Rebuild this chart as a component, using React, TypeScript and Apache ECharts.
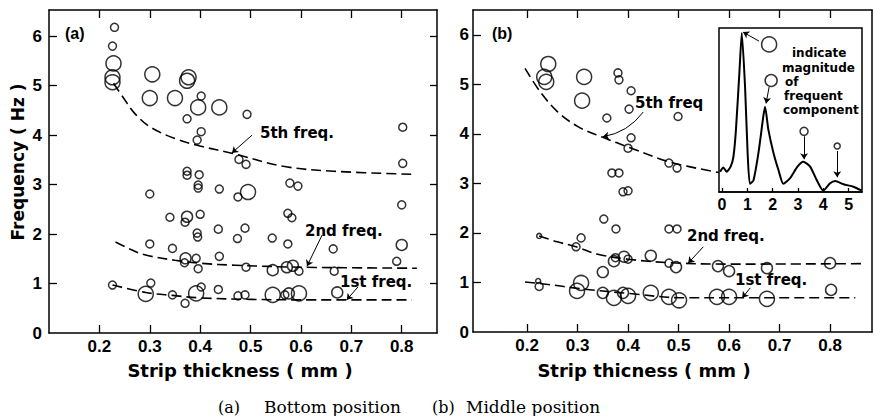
import { useEffect, useRef } from 'react';
import * as echarts from 'echarts';

// ---------- axis ticks ----------
const THICK_TICKS = [0.2, 0.3, 0.4, 0.5, 0.6, 0.7, 0.8];
const FREQ_LABELS = [0, 1, 2, 3, 4, 5, 6];
const FREQ_TICKS = [1, 2, 3, 4, 5, 6];
const INSET_TICKS = [0, 1, 2, 3, 4, 5];

// ---------- (a) Bottom position: [thickness mm, frequency Hz, magnitude class 0..3] ----------
const bottomPoints = [
  [0.23, 6.18, 1], [0.226, 5.8, 1], [0.228, 5.45, 3], [0.226, 5.17, 3], [0.226, 5.07, 3],
  [0.305, 5.23, 3], [0.3, 4.75, 3], [0.35, 4.75, 3], [0.374, 5.1, 3], [0.377, 5.17, 3],
  [0.402, 4.79, 1], [0.396, 4.56, 3], [0.374, 4.33, 1], [0.438, 4.56, 3], [0.493, 4.42, 1],
  [0.402, 4.07, 1], [0.394, 3.9, 1], [0.802, 4.16, 1], [0.477, 3.51, 1], [0.491, 3.41, 1],
  [0.802, 3.43, 1], [0.374, 3.27, 1], [0.374, 3.19, 1], [0.398, 3.2, 1], [0.396, 2.99, 1],
  [0.396, 2.93, 1], [0.438, 2.91, 1], [0.578, 3.03, 1], [0.594, 2.97, 1], [0.495, 2.85, 3],
  [0.475, 2.75, 1], [0.3, 2.81, 1], [0.8, 2.59, 1], [0.34, 2.34, 1], [0.374, 2.35, 2],
  [0.37, 2.24, 1], [0.4, 2.4, 1], [0.436, 2.1, 1], [0.489, 2.12, 1], [0.394, 2.02, 1],
  [0.395, 1.94, 1], [0.474, 1.91, 1], [0.543, 1.92, 1], [0.574, 2.42, 1], [0.582, 2.33, 1],
  [0.3, 1.8, 1], [0.345, 1.71, 1], [0.574, 1.8, 1], [0.664, 1.7, 1], [0.8, 1.78, 2],
  [0.79, 1.45, 1], [0.371, 1.51, 2], [0.369, 1.42, 1], [0.392, 1.51, 1], [0.396, 1.3, 1],
  [0.438, 1.55, 1], [0.491, 1.33, 1], [0.544, 1.27, 2], [0.572, 1.33, 2], [0.584, 1.36, 2],
  [0.596, 1.25, 1], [0.666, 1.25, 1],
  [0.226, 0.97, 1], [0.302, 1.01, 1], [0.292, 0.79, 3], [0.345, 0.77, 1], [0.37, 0.6, 1],
  [0.392, 0.8, 3], [0.402, 0.93, 1], [0.436, 0.88, 1], [0.475, 0.75, 1], [0.489, 0.77, 1],
  [0.544, 0.77, 3], [0.568, 0.77, 1], [0.576, 0.8, 2], [0.596, 0.8, 3], [0.672, 0.82, 2],
];
const bottomFifth = [[0.228, 5.05], [0.25, 4.72], [0.27, 4.44], [0.3, 4.17], [0.35, 3.93], [0.4, 3.78], [0.465, 3.63], [0.565, 3.37], [0.665, 3.27], [0.82, 3.21]];
const bottomSecond = [[0.232, 1.84], [0.26, 1.7], [0.29, 1.58], [0.35, 1.47], [0.4, 1.41], [0.47, 1.37], [0.6, 1.33], [0.83, 1.31]];
const bottomFirst = [[0.226, 0.97], [0.292, 0.82], [0.345, 0.76], [0.4, 0.71], [0.5, 0.68], [0.6, 0.67], [0.82, 0.67]];
const bottomArrows = [
  [[0.503, 4.0], [0.463, 3.64]],
  [[0.642, 1.98], [0.612, 1.35]],
  [[0.713, 0.93], [0.691, 0.67]],
];

// ---------- (b) Middle position ----------
const middlePoints = [
  [0.242, 5.41, 3], [0.234, 5.15, 3], [0.238, 5.05, 3], [0.313, 5.15, 3], [0.309, 4.67, 3],
  [0.38, 5.23, 1], [0.382, 5.09, 1], [0.406, 4.87, 1], [0.402, 4.5, 1], [0.358, 4.32, 1],
  [0.499, 4.35, 1], [0.406, 3.92, 1], [0.4, 3.71, 1], [0.481, 3.41, 1], [0.497, 3.31, 1],
  [0.368, 3.21, 1], [0.382, 3.21, 1], [0.39, 2.83, 1], [0.4, 2.85, 1],
  [0.352, 2.28, 1], [0.376, 2.08, 1], [0.481, 2.08, 1], [0.497, 2.08, 1], [0.224, 1.94, 0],
  [0.307, 1.9, 1], [0.297, 1.72, 1],
  [0.35, 1.21, 2], [0.372, 1.43, 2], [0.375, 1.5, 1], [0.392, 1.52, 2], [0.4, 1.47, 1],
  [0.445, 1.54, 2], [0.481, 1.39, 1], [0.495, 1.31, 2], [0.578, 1.33, 2], [0.6, 1.23, 2],
  [0.675, 1.29, 2], [0.8, 1.39, 2],
  [0.222, 1.03, 0], [0.224, 0.92, 1], [0.307, 0.99, 3], [0.299, 0.83, 3], [0.35, 0.79, 2],
  [0.372, 0.69, 3], [0.39, 0.79, 2], [0.4, 0.73, 3], [0.445, 0.79, 3], [0.481, 0.71, 3],
  [0.501, 0.64, 3], [0.576, 0.71, 3], [0.6, 0.71, 3], [0.675, 0.67, 3], [0.802, 0.85, 2],
];
const middleFifth = [[0.196, 5.32], [0.226, 4.85], [0.26, 4.45], [0.3, 4.15], [0.35, 3.93], [0.404, 3.72], [0.483, 3.43], [0.58, 3.22]];
const middleSecond = [[0.224, 1.94], [0.26, 1.82], [0.297, 1.72], [0.34, 1.57], [0.4, 1.47], [0.48, 1.4], [0.6, 1.37], [0.865, 1.38]];
const middleFirst = [[0.196, 1.01], [0.25, 0.95], [0.3, 0.88], [0.4, 0.78], [0.51, 0.69], [0.6, 0.69], [0.85, 0.69]];
const middleArrows = [
  [[0.43, 4.44], [0.35, 3.94]],
  [[0.549, 1.72], [0.519, 1.39]],
  [[0.642, 0.89], [0.626, 0.69]],
];

// ---------- inset spectrum: [frequency Hz, relative amplitude] ----------
const spectrum = [
  [-0.08, 0.124], [0.05, 0.15], [0.18, 0.124], [0.34, 0.155], [0.45, 0.215], [0.55, 0.38],
  [0.69, 0.74], [0.78, 0.97], [0.91, 0.64], [1.01, 0.24], [1.1, 0.05], [1.24, 0.07],
  [1.44, 0.24], [1.63, 0.46], [1.7, 0.52], [1.83, 0.38], [2.03, 0.24], [2.23, 0.134],
  [2.42, 0.05], [2.69, 0.085], [2.98, 0.155], [3.21, 0.185], [3.48, 0.155], [3.74, 0.073],
  [4.0, 0.008], [4.27, 0.053], [4.47, 0.067], [4.8, 0.047], [5.19, 0.032], [5.52, 0.008],
];
const insetMarkers = [[1.86, 0.9, 4], [1.94, 0.68, 3], [3.24, 0.37, 1], [4.55, 0.28, 0]];
const insetArrows = [
  [[1.46, 0.92], [0.83, 0.975]],
  [[1.86, 0.64], [1.74, 0.54]],
  [[3.24, 0.34], [3.24, 0.2]],
  [[4.55, 0.25], [4.55, 0.09]],
];

const MAG_SIZE = [5, 8, 11, 15, 16];
const INSET_SIZE = [6, 8, 10, 12, 15];

const BLACK = '#000';
const axisLine = { show: true, onZero: false, lineStyle: { color: BLACK, width: 1.5 } };
const tickLine = { color: BLACK, width: 1.3 };
const tickFont = { fontFamily: '"Liberation Sans", Arial, sans-serif', fontWeight: 'bold' as const, fontSize: 17, color: BLACK };

function xAxes(gridIndex: number, min: number, max: number) {
  return [
    {
      gridIndex, type: 'value', min, max, position: 'bottom',
      axisLine, splitLine: { show: false },
      axisTick: { show: true, inside: true, length: 8, customValues: THICK_TICKS, lineStyle: tickLine },
      axisLabel: { ...tickFont, margin: 5, customValues: THICK_TICKS, formatter: (v: number) => v.toFixed(1) },
    },
    {
      gridIndex, type: 'value', min, max, position: 'top',
      axisLine, splitLine: { show: false },
      axisTick: { show: true, inside: true, length: 8, customValues: THICK_TICKS, lineStyle: tickLine },
      axisLabel: { show: false },
    },
  ];
}

function yAxes(gridIndex: number, max: number, labelMargin: number, rightTicks: boolean) {
  return [
    {
      gridIndex, type: 'value', min: 0, max, position: 'left',
      axisLine, splitLine: { show: false },
      axisTick: { show: true, inside: true, length: 8, customValues: FREQ_TICKS, lineStyle: tickLine },
      axisLabel: { ...tickFont, margin: labelMargin, customValues: FREQ_LABELS, formatter: (v: number) => String(Math.round(v)) },
    },
    {
      gridIndex, type: 'value', min: 0, max, position: 'right',
      axisLine, splitLine: { show: false },
      axisTick: { show: rightTicks, inside: true, length: 7, customValues: FREQ_TICKS, lineStyle: tickLine },
      axisLabel: { show: false },
    },
  ];
}

function panelSeries(xi: number, yi: number, points: number[][], curves: number[][][], arrows: number[][][], curvedFirst: boolean) {
  const out: any[] = [];
  curves.forEach((c) => {
    out.push({
      type: 'line', xAxisIndex: xi, yAxisIndex: yi, data: c, smooth: 0.35, symbol: 'none',
      lineStyle: { color: BLACK, width: 1.6, type: [10, 5] }, silent: true,
    });
  });
  out.push({
    type: 'scatter', xAxisIndex: xi, yAxisIndex: yi, data: points,
    symbol: 'circle', symbolSize: (v: number[]) => MAG_SIZE[v[2]],
    itemStyle: { color: 'rgba(0,0,0,0)', borderColor: BLACK, borderWidth: 1.5 },
  });
  out.push({
    type: 'lines', coordinateSystem: 'cartesian2d', xAxisIndex: xi, yAxisIndex: yi,
    symbol: ['none', 'arrow'], symbolSize: 6,
    lineStyle: { color: BLACK, width: 1, opacity: 1 },
    data: arrows.map((a, i) => ({ coords: a, lineStyle: { curveness: curvedFirst && i === 0 ? 0.2 : 0 } })),
  });
  return out;
}

const bold = (size: number) => `bold ${size}px "DejaVu Sans", sans-serif`;
function txt(text: string, x: number, y: number, font: string, align = 'left', rotation = 0) {
  return {
    type: 'text', x, y, rotation, z: 20,
    style: { text, font, fill: BLACK, align, verticalAlign: 'middle', textAlign: align, textVerticalAlign: 'middle' },
  };
}

export default function App() {
  const ref = useRef<HTMLDivElement>(null);
  useEffect(() => {
    if (!ref.current) return;
    const chart = echarts.init(ref.current, undefined, { renderer: 'svg' });
    const option: any = {
      animation: false,
      backgroundColor: '#fff',
      grid: [
        { left: 49, top: 10, width: 388, height: 323 },
        { left: 473, top: 10, width: 399, height: 322 },
        { left: 719, top: 28, width: 143, height: 164, show: true, backgroundColor: '#fff', borderColor: BLACK, borderWidth: 1.5, z: 5 },
      ],
      xAxis: [
        ...xAxes(0, 0.1, 0.87),
        ...xAxes(1, 0.093, 0.883),
        {
          gridIndex: 2, type: 'value', min: -0.12, max: 5.53, position: 'bottom', z: 6,
          axisLine: { ...axisLine, lineStyle: { color: BLACK, width: 1.5 } }, splitLine: { show: false },
          axisTick: { show: true, inside: true, length: 4, customValues: INSET_TICKS, lineStyle: tickLine },
          axisLabel: { ...tickFont, fontSize: 16, margin: 4, customValues: INSET_TICKS, formatter: (v: number) => String(Math.round(v)) },
        },
      ],
      yAxis: [
        ...yAxes(0, 6.53, 7, true),
        ...yAxes(1, 6.5, 4, false),
        {
          gridIndex: 2, type: 'value', min: 0, max: 1, z: 6,
          axisLine: { show: false, onZero: false }, axisTick: { show: false }, axisLabel: { show: false }, splitLine: { show: false },
        },
      ],
      series: [
        ...panelSeries(0, 0, bottomPoints, [bottomFifth, bottomSecond, bottomFirst], bottomArrows, false),
        ...panelSeries(2, 2, middlePoints, [middleFifth, middleSecond, middleFirst], middleArrows, true),
        {
          type: 'line', xAxisIndex: 4, yAxisIndex: 4, data: spectrum, smooth: 0.2, symbol: 'none', z: 7,
          lineStyle: { color: BLACK, width: 2 },
        },
        {
          type: 'scatter', xAxisIndex: 4, yAxisIndex: 4, data: insetMarkers, z: 7,
          symbol: 'circle', symbolSize: (v: number[]) => INSET_SIZE[v[2]],
          itemStyle: { color: '#fff', borderColor: BLACK, borderWidth: 1.5 },
        },
        {
          type: 'lines', coordinateSystem: 'cartesian2d', xAxisIndex: 4, yAxisIndex: 4, z: 7,
          symbol: ['none', 'arrow'], symbolSize: 6,
          lineStyle: { color: BLACK, width: 1, opacity: 1 },
          data: insetArrows.map((a) => ({ coords: a })),
        },
      ],
      graphic: [
        txt('(a)', 65, 33, 'bold 16px "Liberation Sans", Arial, sans-serif'),
        txt('(b)', 492, 33, 'bold 16px "Liberation Sans", Arial, sans-serif'),
        txt('5th freq.', 260, 133, bold(15)),
        txt('2nd freq.', 305, 231, bold(15)),
        txt('1st freq.', 340, 282, bold(15)),
        txt('5th freq', 635, 103, bold(15)),
        txt('2nd freq.', 687, 236, bold(15)),
        txt('1st freq.', 735, 280, bold(15)),
        txt('indicate', 792, 53, bold(12)),
        txt('magnitude', 782, 68, bold(12)),
        txt('of', 785, 82, bold(12)),
        txt('frequent', 784, 96, bold(12)),
        txt('component', 783, 110, bold(12)),
        txt('Frequency ( Hz )', 18, 162, bold(17), 'center', Math.PI / 2),
        txt('Strip thickness ( mm )', 240, 370, bold(18), 'center'),
        txt('Strip thicness ( mm )', 644, 370, bold(18), 'center'),
        txt('(a)', 218, 407, '16px "DejaVu Serif", serif'),
        txt('Bottom position', 264, 407, '17px "DejaVu Serif", serif'),
        txt('(b)', 432, 407, '16px "DejaVu Serif", serif'),
        txt('Middle position', 466, 407, '17px "DejaVu Serif", serif'),
      ],
    };
    chart.setOption(option);
    return () => chart.dispose();
  }, []);
  return (
    <div
      ref={ref}
      style={{ position: 'fixed', left: 0, top: 0, width: 874, height: 416, background: '#fff' }}
    />
  );
}
